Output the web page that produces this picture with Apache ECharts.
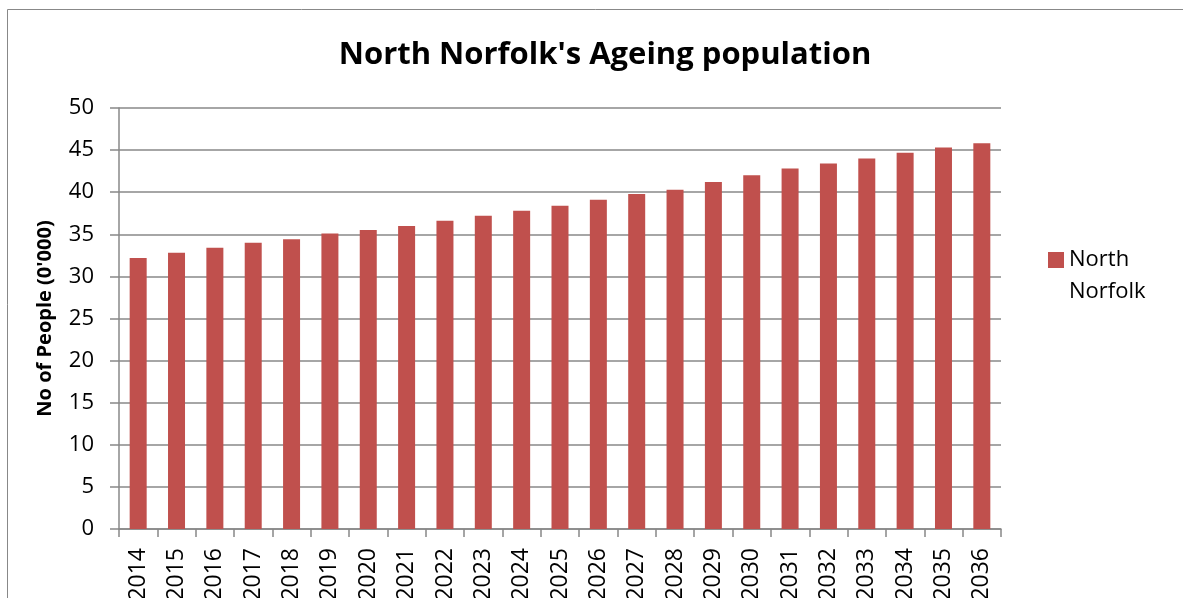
<!DOCTYPE html>
<html>
<head>
<meta charset="utf-8">
<script src="https://cdn.jsdelivr.net/npm/echarts@6/dist/echarts.min.js"></script>
<style>
html,body{margin:0;padding:0;background:#fff;}
#chart{width:1183px;height:598px;}
</style>
</head>
<body>
<div id="chart"></div>
<script>
var years = ['2014','2015','2016','2017','2018','2019','2020','2021','2022','2023','2024','2025','2026','2027','2028','2029','2030','2031','2032','2033','2034','2035','2036'];
var northNorfolk = [32.2,32.8,33.4,34.0,34.4,35.1,35.5,36.0,36.6,37.2,37.8,38.4,39.1,39.8,40.3,41.2,42.0,42.8,43.4,44.0,44.7,45.3,45.8];
var seriesName = 'North Norfolk';
var titleText = "North Norfolk's Ageing population";
var yAxisName = "No of People (0'000)";

var chart = echarts.init(document.getElementById('chart'));
var font = '"Open Sans", Lato, sans-serif';
var gray = '#888888';
chart.setOption({
  animation: false,
  backgroundColor: '#ffffff',
  title: {
    text: titleText,
    left: 600,
    top: 35,
    textAlign: 'center',
    textStyle: {fontFamily: font, fontWeight: 'bold', fontSize: 31, color: '#000'}
  },
  graphic: [{
    type: 'rect',
    shape: {x: 7.5, y: 9.5, width: 1300, height: 700},
    style: {fill: 'none', stroke: gray, lineWidth: 1},
    silent: true
  }],
  legend: {
    left: 1043,
    top: 239,
    itemWidth: 16,
    itemHeight: 48,
    itemGap: 10,
    icon: 'path://M0,0H16V16H0ZM0,48Z',
    data: [seriesName],
    formatter: function (n) { return n.replace(' ', '\n'); },
    textStyle: {fontFamily: font, fontSize: 22, color: '#000', lineHeight: 32}
  },
  grid: {left: 119, right: 182, top: 108, bottom: 69, containLabel: false, outerBoundsMode: 'none'},
  xAxis: {
    type: 'category',
    data: years,
    boundaryGap: true,
    axisLine: {show: true, lineStyle: {color: gray, width: 1.5}},
    axisTick: {show: true, alignWithLabel: false, length: 8, lineStyle: {color: gray, width: 1.5}},
    axisLabel: {rotate: 90, margin: 19, interval: 0, fontFamily: font, fontSize: 23, color: '#000'}
  },
  yAxis: {
    type: 'value',
    min: 0,
    max: 50,
    interval: 5,
    name: yAxisName,
    nameLocation: 'middle',
    nameGap: 64,
    nameRotate: 90,
    nameTextStyle: {fontFamily: font, fontWeight: 'bold', fontSize: 20, color: '#000'},
    axisLine: {show: true, lineStyle: {color: gray, width: 1.5}},
    axisTick: {show: true, inside: false, length: 9, lineStyle: {color: gray, width: 1.5}},
    axisLabel: {margin: 25, fontFamily: font, fontSize: 22, color: '#000'},
    splitLine: {show: true, lineStyle: {color: gray, width: 1.5}}
  },
  series: [{
    name: seriesName,
    type: 'bar',
    data: northNorfolk,
    barWidth: 17,
    itemStyle: {color: '#C0504D'}
  }]
});
</script>
</body>
</html>
